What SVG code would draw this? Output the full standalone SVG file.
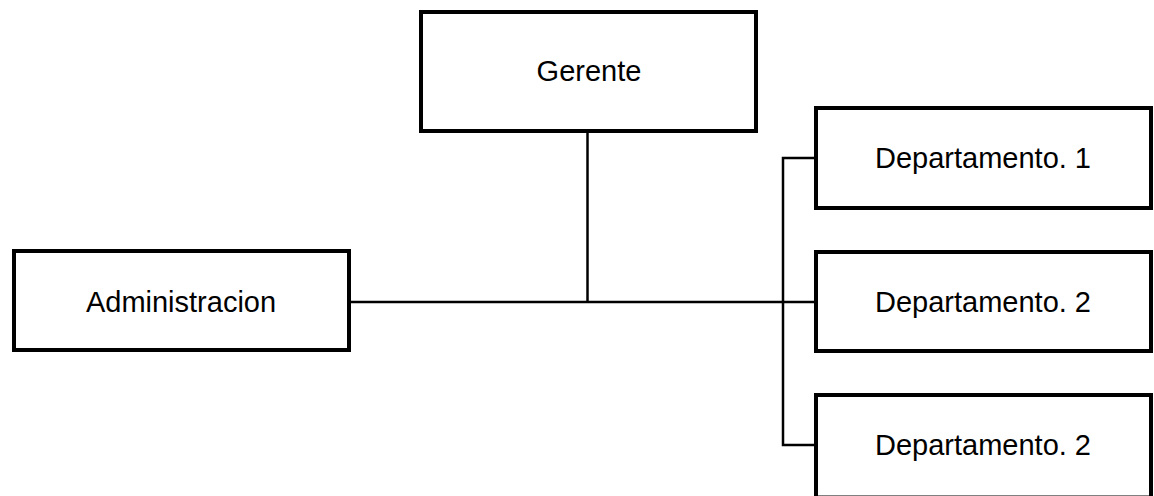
<svg xmlns="http://www.w3.org/2000/svg" width="1154" height="496" viewBox="0 0 1154 496">
  <style>
    .box { fill: #ffffff; stroke: #000000; stroke-width: 4; }
    .label { font-family: "Liberation Sans", Arial, sans-serif; font-size: 29px; fill: #000000; text-anchor: middle; }
    .link { fill: none; stroke: #000000; stroke-width: 2.5; }
  </style>
  <rect width="1154" height="496" fill="#ffffff"/>

  <!-- connectors -->
  <g id="connectors">
    <line class="link" x1="587.5" y1="133" x2="587.5" y2="302"/>
    <line class="link" x1="351" y1="302" x2="814" y2="302"/>
    <polyline class="link" points="814,158 783,158 783,445 814,445"/>
  </g>

  <g id="gerente">
    <rect class="box" x="421" y="12" width="335" height="119"/>
    <text class="label" x="589" y="81">Gerente</text>
  </g>

  <g id="administracion">
    <rect class="box" x="14" y="251" width="335" height="99"/>
    <text class="label" x="181" y="312">Administracion</text>
  </g>

  <g id="departamento1">
    <rect class="box" x="816" y="108" width="335" height="100"/>
    <text class="label" x="983" y="168">Departamento. 1</text>
  </g>

  <g id="departamento2a">
    <rect class="box" x="816" y="252" width="335" height="99"/>
    <text class="label" x="983" y="312">Departamento. 2</text>
  </g>

  <!-- lower box: its bottom edge sits right at the page edge -->
  <g id="departamento2b">
    <rect class="box" x="816" y="395" width="335" height="102.5"/>
    <text class="label" x="983" y="455">Departamento. 2</text>
  </g>
</svg>
